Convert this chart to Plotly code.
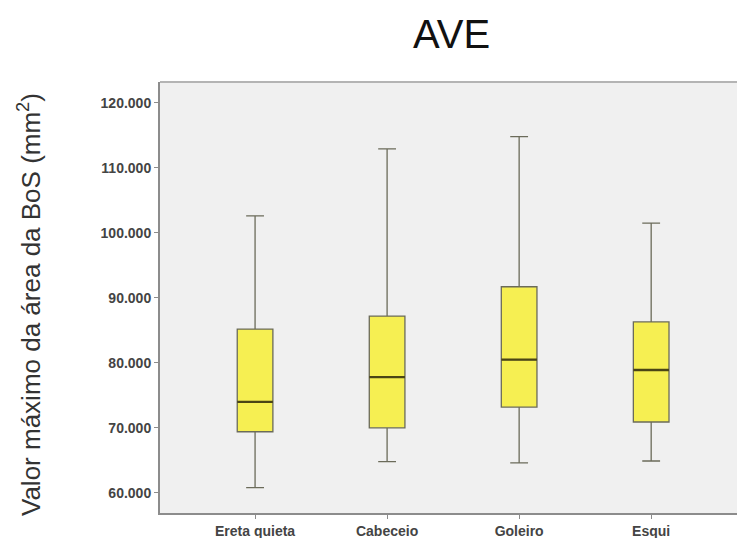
import plotly.graph_objects as go

# Five-number summaries per task (mm²)
categories = ["Ereta quieta", "Cabeceio", "Goleiro", "Esqui"]
lower_whisker = [60800, 64800, 64600, 64900]
q1_values = [69400, 70000, 73200, 70900]
median_values = [74000, 77800, 80500, 78900]
q3_values = [85200, 87200, 91700, 86300]
upper_whisker = [102600, 112900, 114800, 101500]

y_ticks = [60000, 70000, 80000, 90000, 100000, 110000, 120000]

W, H = 737, 538
L, R, T, B = 160, 0, 82, 25
BOX_W = 0.27

positions = list(range(len(categories)))

fig = go.Figure()
fig.add_trace(go.Box(
    x=positions,
    q1=q1_values,
    median=median_values,
    q3=q3_values,
    lowerfence=lower_whisker,
    upperfence=upper_whisker,
    fillcolor="#f6ef52",
    line=dict(color="#6b6b5a", width=1.3),
    width=BOX_W,
    whiskerwidth=0.5,
    boxpoints=False,
    hoverinfo="skip",
    showlegend=False,
))

# darker median bars drawn over the boxes
mx, my = [], []
for p, m in zip(positions, median_values):
    mx += [p - BOX_W / 2, p + BOX_W / 2, None]
    my += [m, m, None]
fig.add_trace(go.Scatter(
    x=mx, y=my, mode="lines",
    line=dict(color="#4a4515", width=2.4),
    hoverinfo="skip", showlegend=False,
))

fig.update_layout(
    width=W, height=H,
    margin=dict(l=L, r=R, t=T, b=B),
    paper_bgcolor="white",
    plot_bgcolor="#f0f0f0",
    separators=",.",
    font=dict(family="Liberation Sans, Arial", color="#333333"),
    xaxis=dict(
        range=[-0.72, 3.65],
        tickvals=positions,
        ticktext=categories,
        showline=True, linecolor="#8c8c8c", linewidth=2,
        ticks="outside", ticklen=4, tickcolor="#8c8c8c",
        showgrid=False, zeroline=False,
        tickfont=dict(size=14, color="#444444", weight="bold"),
    ),
    yaxis=dict(
        range=[56900, 123200],
        tickvals=y_ticks,
        tickformat=",d",
        showline=True, linecolor="#8c8c8c", linewidth=2,
        ticks="outside", ticklen=4, tickcolor="#8c8c8c",
        showgrid=False, zeroline=False,
        tickfont=dict(size=14, color="#444444", weight="bold"),
    ),
    shapes=[dict(
        type="line", xref="paper", yref="paper",
        x0=0, x1=1, y0=1, y1=1,
        line=dict(color="#b4b4b4", width=2),
    )],
    annotations=[
        dict(
            text="AVE", xref="paper", yref="paper",
            x=(452 - L) / (W - L - R), y=1 + (T - 34) / (H - T - B),
            showarrow=False, xanchor="center", yanchor="middle",
            font=dict(size=40, color="#111111", family="Liberation Sans, Arial"),
        ),
        dict(
            text="Valor máximo da área da BoS (mm<sup>2</sup>)",
            xref="paper", yref="paper",
            x=(29 - L) / (W - L - R), y=((H - B) - 305) / (H - T - B),
            textangle=-90, showarrow=False,
            xanchor="center", yanchor="middle",
            font=dict(size=26, color="#333333", family="Liberation Sans, Arial"),
        ),
    ],
)

fig.write_html("out.html")
